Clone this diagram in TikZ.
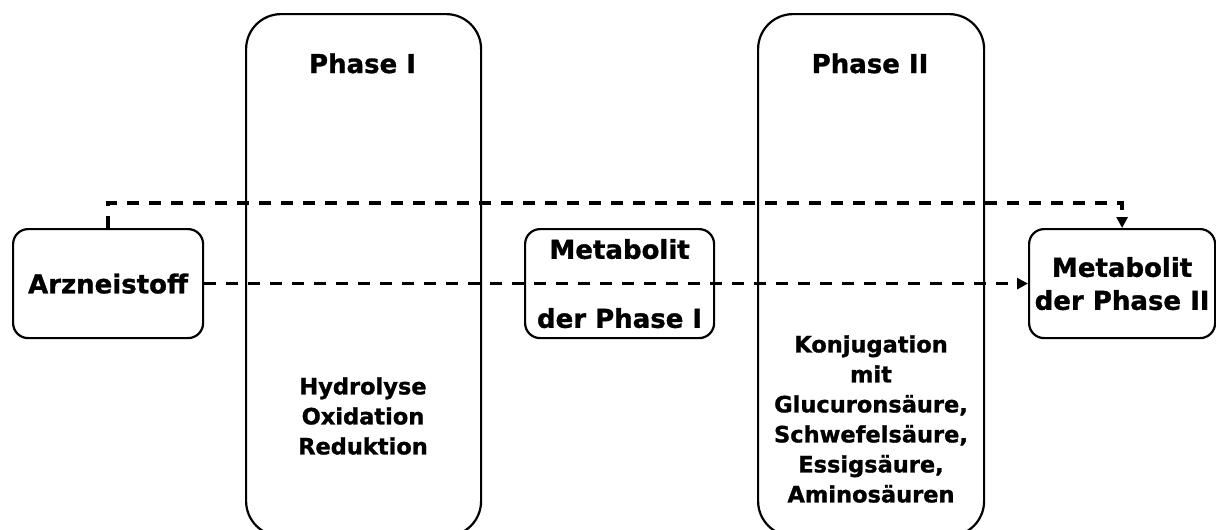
\documentclass[tikz,border=0pt]{standalone}
\usepackage{fontspec}
\setmainfont{DejaVu Sans}[BoldFeatures={FakeBold=1.2}]
\usetikzlibrary{arrows.meta}
\begin{document}
\begin{tikzpicture}[x=1pt,y=-1pt,
  phasebox/.style={draw=black, line width=2.2pt, rounded corners=35pt, anchor=north west, inner sep=0pt},
  smallbox/.style={draw=black, line width=2.2pt, rounded corners=15pt, anchor=north west, inner sep=0pt, align=center},
  lbl/.style={font=\bfseries\fontsize{26}{30}\selectfont, align=center, inner sep=0pt},
  listlbl/.style={font=\bfseries\fontsize{22.5}{30}\selectfont, align=center, inner sep=0pt},
  flow/.style={line width=3.5pt, dash pattern=on 12pt off 10pt, -{Triangle[length=11pt,width=11pt]}}]
\useasboundingbox (0,0) rectangle (1216,530);
\clip (0,0) rectangle (1216,530);
\fill[white] (0,0) rectangle (1216,530);
% phase columns
\node[phasebox, minimum width=235pt, minimum height=522pt] (p1) at (245,13) {};
\node[phasebox, minimum width=226pt, minimum height=522pt] (p2) at (757,13) {};
\node[lbl, anchor=base] (p1t) at (362.5,73) {Phase I};
\node[lbl, anchor=base] (p2t) at (870,73) {Phase II};
\node[listlbl] (p1l) at (363,416) {Hydrolyse\\Oxidation\\Reduktion};
\node[listlbl] (p2l) at (871,419) {Konjugation\\mit\\Glucuronsäure,\\Schwefelsäure,\\Essigsäure,\\Aminosäuren};
% substance boxes
\node[smallbox, minimum width=190pt, minimum height=109pt, font=\bfseries\fontsize{26}{30}\selectfont] (arz) at (12,228) {Arzneistoff};
\node[smallbox, minimum width=189pt, minimum height=109pt, font=\bfseries\fontsize{26}{30}\selectfont] (m1) at (524,228) {Metabolit\\[39pt]der Phase I};
\node[smallbox, minimum width=186pt, minimum height=109pt, font=\bfseries\fontsize{26}{33}\selectfont] (m2) at (1028,228) {Metabolit\\der Phase II};
% connectors
\coordinate (top) at (0,203);
\draw[flow] (arz.east) -- (m2.west);
\draw[flow] (arz.north) |- (m2.north |- top) -- (m2.north);
\end{tikzpicture}
\end{document}
